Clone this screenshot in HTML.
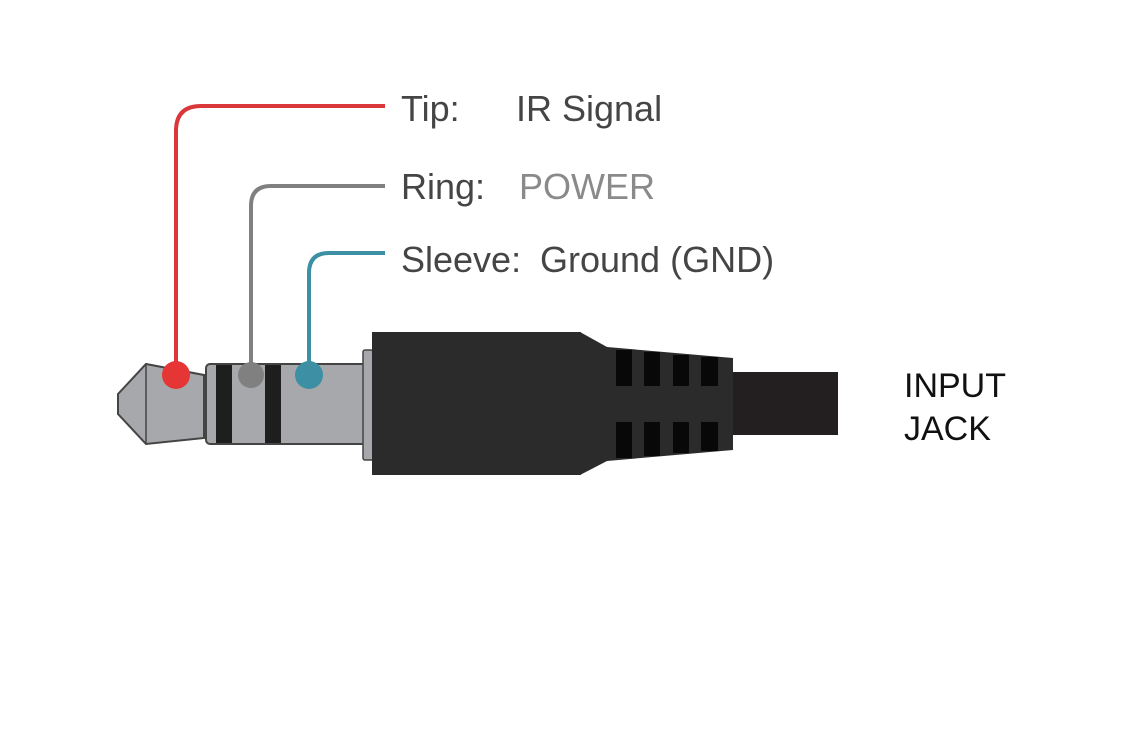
<!DOCTYPE html>
<html><head><meta charset="utf-8"><style>
html,body{margin:0;padding:0;background:#fff;}
svg{display:block}
</style></head><body>
<svg width="1125" height="740" viewBox="0 0 1125 740" xmlns="http://www.w3.org/2000/svg">
<rect width="1125" height="740" fill="#fff"/>
<!-- leader lines -->
<path d="M176 375 V131 Q176 106 201 106 H385" fill="none" stroke="#d9373a" stroke-width="4"/>
<path d="M251 375 V206 Q251 186 271 186 H385" fill="none" stroke="#808080" stroke-width="4"/>
<path d="M309 375 V273 Q309 253 329 253 H385" fill="none" stroke="#3d8fa3" stroke-width="4"/>
<!-- tip -->
<polygon points="118,394 146,364 204,375 204,438 146,444 118,414" fill="#a7a8ab" stroke="#444" stroke-width="2"/>
<line x1="146" y1="364" x2="146" y2="444" stroke="#444" stroke-width="1.5"/>
<!-- barrel -->
<rect x="206" y="364" width="160" height="80" rx="4" fill="#a7a8ab" stroke="#444" stroke-width="2"/>
<rect x="216" y="365" width="16" height="78" fill="#1e1e1e"/>
<rect x="265" y="365" width="16" height="78" fill="#1e1e1e"/>
<rect x="363" y="350" width="10" height="110" rx="2" fill="#a7a8ab" stroke="#444" stroke-width="1.5"/>
<!-- body -->
<rect x="372" y="332" width="209" height="143" fill="#2b2b2b"/>
<polygon points="580,332 607,347 733,358 733,450 607,461 580,475" fill="#2b2b2b"/>
<g fill="#080808">
<rect x="616" y="350" width="16" height="36"/><rect x="644" y="352" width="16" height="34"/><rect x="673" y="355" width="16" height="31"/><rect x="701" y="357" width="17" height="29"/>
<rect x="616" y="422" width="16" height="36"/><rect x="644" y="422" width="16" height="34"/><rect x="673" y="422" width="16" height="31"/><rect x="701" y="422" width="17" height="29"/>
</g>
<rect x="733" y="372" width="105" height="63" fill="#231f20"/>
<!-- dots -->
<circle cx="176" cy="375" r="14" fill="#e53535"/>
<circle cx="251" cy="375" r="13" fill="#808080"/>
<circle cx="309" cy="375" r="14" fill="#3d8fa3"/>
<!-- labels -->
<g font-family="Liberation Sans, sans-serif" font-size="36" fill="#454545">
<text x="401" y="121">Tip:</text>
<text x="516" y="121">IR Signal</text>
<text x="401" y="199">Ring:</text>
<text x="519" y="199" fill="#8a8a8a">POWER</text>
<text x="401" y="272">Sleeve:</text>
<text x="540" y="272">Ground (GND)</text>
</g>
<g font-family="Liberation Sans, sans-serif" font-size="34" fill="#111">
<text x="904" y="397">INPUT</text>
<text x="904" y="440">JACK</text>
</g>
</svg>
</body></html>
